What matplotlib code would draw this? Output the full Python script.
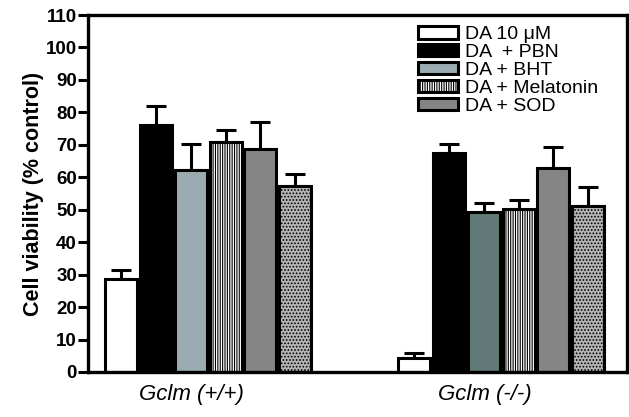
import matplotlib.pyplot as plt
import numpy as np

groups = ['Gclm (+/+)', 'Gclm (-/-)']
treatments = ['DA 10 \u03bcM', 'DA  + PBN', 'DA + BHT', 'DA + Melatonin', 'DA + SOD', '']
wt_vals = [28.7, 76.0, 62.1, 70.8, 68.8, 57.2]
wt_err = [2.7, 5.9, 8.0, 3.9, 8.1, 3.9]
ko_vals = [4.4, 67.4, 49.4, 50.2, 62.8, 51.2]
ko_err = [1.4, 2.7, 2.6, 2.9, 6.5, 5.9]
yticks = list(range(0, 111, 10))

plt.rcParams['font.family'] = ['Liberation Sans', 'DejaVu Sans']
plt.rcParams['hatch.linewidth'] = 0.8

fig = plt.figure(figsize=(6.29, 4.17), dpi=100)
ax = fig.add_axes([0.140, 0.108, 0.857, 0.856])

# styles per bar (face, hatch) for each group
wt_style = [('white', ''), ('black', ''), ('#9aabb1', ''), ('white', '|||||||'),
            ('#858585', ''), ('#b4b4b4', '.....')]
ko_style = [('white', ''), ('black', ''), ('#617a77', ''), ('white', '|||||||'),
            ('#858585', ''), ('#b4b4b4', '.....')]

starts = [0.95, 9.37]
for g, (vals, errs, style) in enumerate([(wt_vals, wt_err, wt_style), (ko_vals, ko_err, ko_style)]):
    x = starts[g] + np.arange(len(vals))
    for i in range(len(vals)):
        fc, h = style[i]
        lab = treatments[i] if (g == 0 and treatments[i]) else None
        ax.bar(x[i], vals[i], width=0.92, color=fc, edgecolor='black', linewidth=2.2,
               hatch=h, label=lab, zorder=2)
    ax.errorbar(x, vals, yerr=[np.zeros(len(vals)), errs], fmt='none', ecolor='black',
                elinewidth=2.2, capsize=7.5, capthick=2.2, zorder=1)

ax.set_xlim(0, 15.49)
ax.set_ylim(0, 110)
ax.set_yticks(yticks)
ax.set_yticklabels([str(t) for t in yticks], fontweight='bold', fontsize=13.5)
ax.set_xticks([starts[0] + 2.03, starts[1] + 2.03])
ax.set_xticklabels(groups, fontstyle='italic', fontsize=16)
ax.tick_params(axis='x', length=0, pad=9)
ax.tick_params(axis='y', length=7, width=2.2, direction='out', pad=1)
for s in ax.spines.values():
    s.set_linewidth(2.4)
ax.set_ylabel('Cell viability (% control)', fontweight='bold', fontsize=15.5, labelpad=1)

ax.legend(loc='upper left', bbox_to_anchor=(0.583, 1.012), frameon=False, fontsize=14,
          handlelength=2.05, handleheight=0.6, labelspacing=0.04, handletextpad=0.35,
          borderpad=0.3)

fig.savefig('out.png', dpi=100)
